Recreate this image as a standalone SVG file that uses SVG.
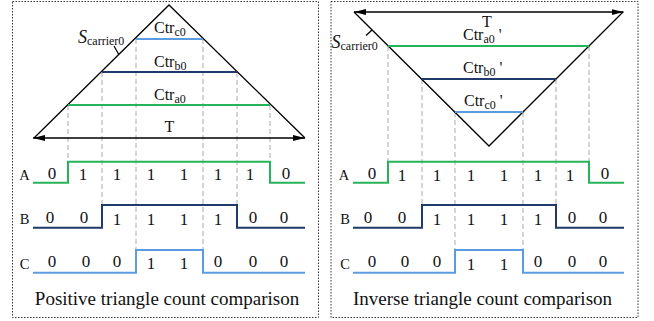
<svg xmlns="http://www.w3.org/2000/svg" width="654" height="321" viewBox="0 0 654 321">
<defs>
<marker id="ah" viewBox="0 0 12 6" refX="12" refY="3" markerWidth="12" markerHeight="6" markerUnits="userSpaceOnUse" orient="auto-start-reverse"><path d="M0,0 L12,3 L0,6 Z" fill="#000"/></marker>
<style>
text{font-family:"Liberation Serif","Times New Roman",serif;fill:#111}
.frame{fill:none;stroke:#333;stroke-width:1;stroke-dasharray:1.5 1.5}
.tri{fill:none;stroke:#000;stroke-width:1.3}
.arr{stroke:#000;stroke-width:1.3;fill:none}
.dash{stroke:#aaa;stroke-width:1;stroke-dasharray:5 3;fill:none}
.ga{stroke:#27b35a;stroke-width:2;fill:none}
.gb{stroke:#1f3a6b;stroke-width:2;fill:none}
.gc{stroke:#5b9bdf;stroke-width:2;fill:none}
.lbl{font-size:16px}
.sub{font-size:12px}
.dig{font-size:17px;text-anchor:middle}
.sig{font-size:14.5px;text-anchor:middle}
.cap{font-size:19px;text-anchor:middle}
.it{font-style:italic;font-size:18px}
</style>
</defs>
<rect class="frame" x="12.5" y="1.5" width="306" height="316"/>
<rect class="frame" x="331" y="1.5" width="307" height="316"/>

<g id="connectors">
<path class="dash" d="M68,105V162 M102,72V205 M136,39V250 M203,39V250 M237,72V205 M270,105V162"/>
<path class="dash" d="M388,46V162 M422,79V205 M455,112V250 M523,112V250 M556,79V205 M589,46V162"/>
</g>

<g id="positive-carrier">
<path class="tri" d="M34,138 L169,5 L305,138"/>
<line class="arr" x1="33" y1="138" x2="305" y2="138" marker-start="url(#ah)" marker-end="url(#ah)"/>
<line class="arr" x1="114" y1="46" x2="118.5" y2="54" stroke-width="1"/>
<text x="78" y="43" class="it">S<tspan class="sub" font-style="normal" dy="2">carrier0</tspan></text>
<text x="169.5" y="132" class="lbl" text-anchor="middle">T</text>
</g>
<g id="ctr-c0">
<line class="gc" x1="136" y1="39" x2="203" y2="39"/>
<text x="154" y="33" class="lbl">Ctr<tspan class="sub" dy="3">c0</tspan></text>
</g>
<g id="ctr-b0">
<line class="gb" x1="102" y1="72" x2="237" y2="72"/>
<text x="154" y="66.5" class="lbl">Ctr<tspan class="sub" dy="3">b0</tspan></text>
</g>
<g id="ctr-a0">
<line class="ga" x1="68" y1="105" x2="270" y2="105"/>
<text x="154" y="99.5" class="lbl">Ctr<tspan class="sub" dy="3">a0</tspan></text>
</g>

<g id="pos-A">
<path class="ga" d="M33,182.7H68V161.7H270V182.7H305"/>
<text x="24.5" y="180" class="sig">A</text>
<text class="dig" y="179"><tspan x="52">0</tspan></text>
<text class="dig" y="180"><tspan x="83">1</tspan><tspan x="117">1</tspan><tspan x="151">1</tspan><tspan x="184">1</tspan><tspan x="218">1</tspan><tspan x="250">1</tspan></text>
<text class="dig" y="179"><tspan x="286">0</tspan></text>
</g>
<g id="pos-B">
<path class="gb" d="M33,227.7H102V205H237V227.7H305"/>
<text x="24.5" y="224" class="sig">B</text>
<text class="dig" y="222.7"><tspan x="50">0</tspan><tspan x="84">0</tspan></text>
<text class="dig" y="225"><tspan x="117">1</tspan><tspan x="151">1</tspan><tspan x="184">1</tspan><tspan x="218">1</tspan></text>
<text class="dig" y="222.7"><tspan x="253">0</tspan><tspan x="284">0</tspan></text>
</g>
<g id="pos-C">
<path class="gc" d="M33,272.7H136V250H203V272.7H305"/>
<text x="24.5" y="269" class="sig">C</text>
<text class="dig" y="267.3"><tspan x="52">0</tspan><tspan x="86">0</tspan><tspan x="117">0</tspan></text>
<text class="dig" y="269.3"><tspan x="151">1</tspan><tspan x="184">1</tspan></text>
<text class="dig" y="267.3"><tspan x="218">0</tspan><tspan x="253">0</tspan><tspan x="284">0</tspan></text>
</g>
<text x="167" y="305" class="cap">Positive triangle count comparison</text>

<g id="inverse-carrier">
<path class="tri" d="M354,12 L489,146 L623,12"/>
<line class="arr" x1="354" y1="12" x2="623.5" y2="12" marker-start="url(#ah)" marker-end="url(#ah)"/>
<line class="arr" x1="366" y1="35.5" x2="372" y2="30" stroke-width="1"/>
<text x="331.5" y="47.5" class="it">S<tspan class="sub" font-style="normal" dy="2">carrier0</tspan></text>
<text x="487" y="27" class="lbl" text-anchor="middle">T</text>
</g>
<g id="ctr-a0p">
<line class="ga" x1="388" y1="46" x2="589" y2="46"/>
<text x="463" y="40" class="lbl">Ctr<tspan class="sub" dy="3">a0</tspan><tspan dy="-3"> '</tspan></text>
</g>
<g id="ctr-b0p">
<line class="gb" x1="422" y1="79" x2="556" y2="79"/>
<text x="463" y="73" class="lbl">Ctr<tspan class="sub" dy="3">b0</tspan><tspan dy="-3"> '</tspan></text>
</g>
<g id="ctr-c0p">
<line class="gc" x1="455" y1="112" x2="523" y2="112"/>
<text x="464" y="106" class="lbl">Ctr<tspan class="sub" dy="3">c0</tspan><tspan dy="-3"> '</tspan></text>
</g>

<g id="inv-A">
<path class="ga" d="M353,182.7H388V161.7H589V182.7H624"/>
<text x="344" y="179.5" class="sig">A</text>
<text class="dig" y="178.5"><tspan x="372">0</tspan></text>
<text class="dig" y="180.5"><tspan x="402">1</tspan><tspan x="437">1</tspan><tspan x="471">1</tspan><tspan x="504">1</tspan><tspan x="538">1</tspan><tspan x="570">1</tspan></text>
<text class="dig" y="178.5"><tspan x="605">0</tspan></text>
</g>
<g id="inv-B">
<path class="gb" d="M353,227.7H422V205H556V227.7H624"/>
<text x="345" y="224" class="sig">B</text>
<text class="dig" y="222.7"><tspan x="368">0</tspan><tspan x="402">0</tspan></text>
<text class="dig" y="225"><tspan x="437">1</tspan><tspan x="471">1</tspan><tspan x="504">1</tspan><tspan x="538">1</tspan></text>
<text class="dig" y="222.7"><tspan x="572">0</tspan><tspan x="603">0</tspan></text>
</g>
<g id="inv-C">
<path class="gc" d="M353,272.7H455V250H523V272.7H624"/>
<text x="345" y="269" class="sig">C</text>
<text class="dig" y="267.3"><tspan x="372">0</tspan><tspan x="405">0</tspan><tspan x="437">0</tspan></text>
<text class="dig" y="269.5"><tspan x="471">1</tspan><tspan x="504">1</tspan></text>
<text class="dig" y="267.3"><tspan x="538">0</tspan><tspan x="572">0</tspan><tspan x="603">0</tspan></text>
</g>
<text x="482.5" y="305" class="cap">Inverse triangle count comparison</text>
</svg>
